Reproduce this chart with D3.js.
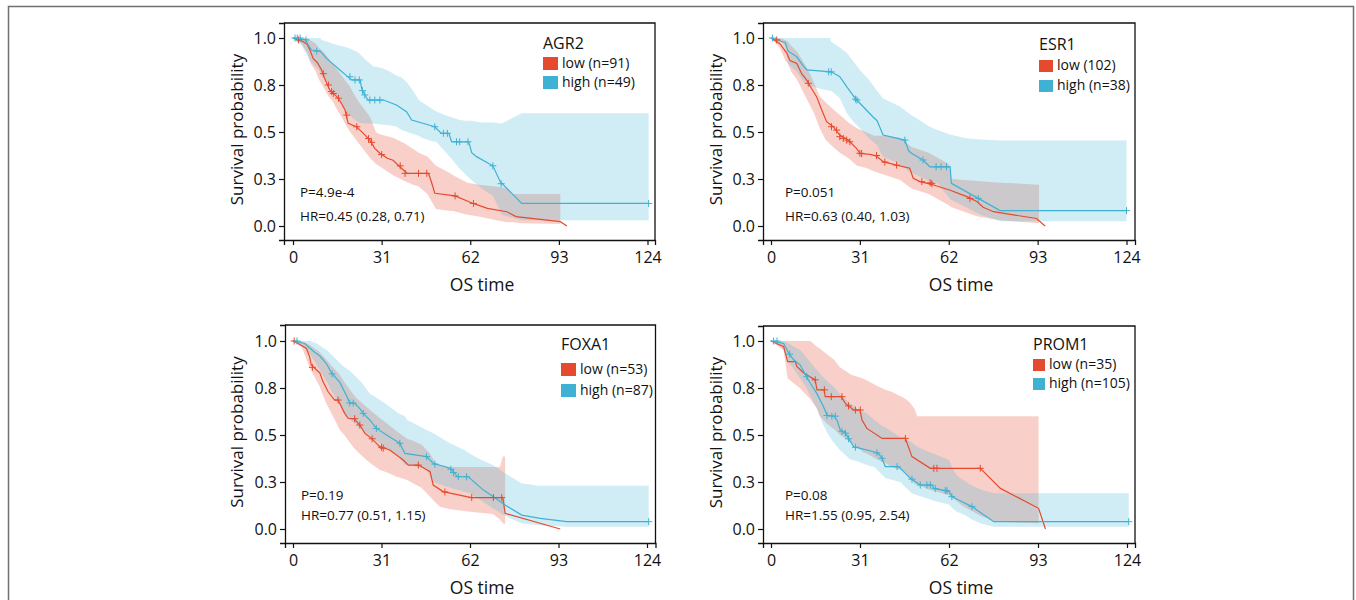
<!DOCTYPE html>
<html>
<head>
<meta charset="utf-8">
<script src="https://cdn.jsdelivr.net/npm/d3@7"></script>
<style>
  html, body { margin: 0; padding: 0; background: #fff; }
  svg { display: block; font-family: "Open Sans", "Noto Sans", sans-serif; }
</style>
</head>
<body>
<svg id="chart" width="1356" height="600"></svg>
<script>
// ---------------- DATA ----------------
const xTickValues = [0, 31, 62, 93, 124];
const yTickValues = [0, 0.25, 0.5, 0.75, 1];
const yTickLabels = ["0.0", "0.3", "0.5", "0.8", "1.0"];
const genes = ["AGR2", "ESR1", "FOXA1", "PROM1"];
const lowLabels = ["low (n=91)", "low (102)", "low (n=53)", "low (n=35)"];
const highLabels = ["high (n=49)", "high (n=38)", "high (n=87)", "high (n=105)"];
const pTexts = ["P=4.9e-4", "P=0.051", "P=0.19", "P=0.08"];
const hrTexts = ["HR=0.45 (0.28, 0.71)", "HR=0.63 (0.40, 1.03)", "HR=0.77 (0.51, 1.15)", "HR=1.55 (0.95, 2.54)"];

// ---- AGR2 ----
const agr2Low = [[0,1],[2,0.99],[3.6,0.98],[5,0.965],[5.9,0.936],[7.1,0.89],[8.5,0.87],[10,0.83],[11.2,0.78],[12.9,0.723],[14.5,0.70],[15.8,0.68],[17,0.65],[18.2,0.617],[19.3,0.546],[22.2,0.528],[24.6,0.493],[26.9,0.457],[28.6,0.413],[30.4,0.387],[33,0.36],[35,0.35],[38.6,0.298],[40,0.28],[47.4,0.28],[48.5,0.23],[49.6,0.174],[56.7,0.16],[63,0.12],[68,0.094],[74.8,0.076],[78,0.05],[93.5,0.023],[95.8,0]];
const agr2High = [[0,1],[4.5,0.99],[5.3,0.963],[6.5,0.936],[9.5,0.93],[11.8,0.89],[16.4,0.83],[18.7,0.80],[20.5,0.777],[23.5,0.777],[24,0.732],[25.1,0.697],[26.3,0.67],[31.6,0.67],[36.2,0.644],[39.7,0.608],[41.5,0.564],[49.6,0.528],[51.9,0.493],[54.5,0.493],[55.5,0.448],[61.5,0.448],[62.5,0.39],[64.2,0.369],[69.9,0.32],[72.5,0.236],[80,0.12],[124.4,0.12]];
const agr2LowCensor = [[1.9,0.99],[10.6,0.81],[12.4,0.75],[13.5,0.715],[14.1,0.705],[15.9,0.68],[18.8,0.59],[22.3,0.528],[26.4,0.465],[27.5,0.445],[31,0.38],[37.5,0.32],[39.2,0.28],[43.9,0.28],[46.8,0.28],[56.7,0.16],[63.1,0.12]];
const agr2HighCensor = [[0.7,1],[1.5,1],[2.5,1],[4.5,0.99],[8.3,0.93],[19.9,0.794],[21.7,0.777],[23.2,0.777],[24.3,0.72],[25.1,0.697],[26.9,0.67],[28.6,0.67],[30.4,0.67],[49.6,0.528],[52.6,0.493],[54,0.493],[57.2,0.448],[58.3,0.448],[61.2,0.448],[69.9,0.32],[72.8,0.225],[124.4,0.12]];
const agr2LowBand = [[0,1,1],[3,0.97,1],[5,0.92,1],[6,0.87,0.99],[8,0.82,0.97],[9,0.78,0.95],[11,0.73,0.92],[12,0.7,0.9],[14,0.66,0.86],[15,0.63,0.84],[17,0.58,0.8],[18,0.55,0.78],[20,0.5,0.74],[21,0.48,0.71],[23,0.44,0.66],[24,0.42,0.64],[27,0.36,0.58],[29,0.33,0.5],[30,0.32,0.49],[35,0.27,0.47],[39,0.24,0.44],[42,0.22,0.41],[44,0.21,0.39],[47,0.17,0.37],[50,0.09,0.32],[55,0.08,0.28],[56,0.08,0.27],[61,0.06,0.23],[65,0.05,0.22],[71,0.03,0.21],[75,0.02,0.2],[77,0.02,0.17],[80,0.015,0.17],[93.5,0.01,0.17]];
const agr2HighBand = [[0,1,1],[3,0.96,1],[6,0.88,1],[9.5,0.82,1],[10,0.80,0.99],[12,0.77,0.98],[13,0.74,0.975],[16,0.68,0.96],[19,0.6,0.95],[22,0.56,0.93],[23,0.55,0.92],[25,0.545,0.89],[28,0.545,0.85],[31,0.54,0.84],[34,0.535,0.82],[36,0.53,0.8],[38,0.51,0.79],[40,0.5,0.76],[42,0.49,0.72],[44,0.48,0.67],[45,0.47,0.66],[49,0.45,0.62],[50,0.45,0.61],[53,0.4,0.59],[57,0.33,0.57],[58,0.31,0.565],[60,0.28,0.56],[62,0.25,0.56],[66,0.2,0.55],[70,0.16,0.55],[72.5,0.08,0.545],[73,0.06,0.545],[80,0.03,0.6],[124.4,0.03,0.6]];

// ---- ESR1 ----
const esr1Low = [[0,1],[3.1,0.97],[5.5,0.92],[6.6,0.88],[9,0.865],[10.7,0.81],[12.4,0.777],[14.2,0.73],[15.9,0.688],[17.7,0.617],[19.4,0.555],[21.7,0.528],[24,0.484],[26.9,0.457],[29.8,0.413],[31,0.387],[35,0.38],[36.8,0.372],[39.1,0.342],[43.8,0.324],[48.4,0.307],[49.6,0.254],[52,0.236],[56.7,0.218],[62.5,0.19],[68.3,0.156],[71.8,0.13],[74,0.1],[77.6,0.076],[92.6,0.04],[95.6,0]];
const esr1High = [[0,1],[5,0.975],[6,0.93],[9,0.9],[11.3,0.85],[12.5,0.83],[21,0.82],[24,0.794],[26.4,0.741],[29.3,0.68],[31,0.653],[35.6,0.58],[37,0.56],[39.1,0.484],[46.7,0.457],[48,0.4],[49,0.387],[53,0.351],[55.4,0.315],[62.5,0.315],[62.9,0.227],[72.3,0.147],[79.9,0.082],[124,0.082]];
const esr1LowCensor = [[2,0.99],[13,0.759],[21.1,0.528],[22.9,0.51],[24,0.475],[25.2,0.466],[26.4,0.457],[27.5,0.448],[31,0.387],[31.6,0.385],[36.8,0.375],[39.7,0.34],[43.8,0.324],[52.6,0.236],[55.5,0.23],[56.1,0.225],[69.4,0.147]];
const esr1HighCensor = [[0.5,1],[20.1,0.82],[21,0.82],[29.5,0.675],[30,0.67],[46.7,0.457],[53,0.351],[57.6,0.315],[59.3,0.315],[61.2,0.315],[72.3,0.147],[124,0.082]];
const esr1LowBand = [[0,1,1],[3,0.95,1],[5,0.88,0.99],[6,0.86,0.98],[7,0.82,0.96],[9,0.78,0.93],[11,0.72,0.88],[13,0.66,0.83],[15,0.6,0.76],[17,0.52,0.69],[19,0.46,0.66],[21,0.43,0.63],[24,0.39,0.59],[27,0.36,0.55],[30,0.32,0.52],[33,0.31,0.5],[36,0.29,0.48],[40,0.27,0.48],[45,0.245,0.47],[49,0.2,0.42],[55,0.17,0.39],[62,0.11,0.33],[63,0.1,0.25],[72,0.05,0.24],[80,0.03,0.23],[93.5,0.015,0.22]];
const esr1HighBand = [[0,1,1],[4,0.98,1],[5,0.95,1],[6,0.86,1],[9,0.82,1],[11.3,0.77,1],[13,0.75,1],[17,0.73,1],[20.5,0.72,1],[21,0.72,0.98],[24,0.68,0.95],[26.5,0.6,0.92],[29,0.55,0.87],[31,0.52,0.83],[34,0.47,0.78],[37,0.43,0.72],[39,0.37,0.68],[45,0.33,0.636],[48,0.29,0.6],[51,0.27,0.57],[55,0.24,0.53],[58,0.227,0.51],[62.7,0.14,0.485],[68,0.1,0.467],[73,0.06,0.46],[80,0.025,0.455],[124,0.025,0.455]];

// ---- FOXA1 ----
const foxa1Low = [[0,1],[1.75,0.987],[4.7,0.96],[5.8,0.917],[6.4,0.872],[9.4,0.83],[10.5,0.784],[12.3,0.73],[14.6,0.686],[15.8,0.686],[18.1,0.615],[19.3,0.589],[21.5,0.585],[23.4,0.553],[25.2,0.509],[27.5,0.482],[30.4,0.438],[33.9,0.42],[38.6,0.367],[40.4,0.34],[44,0.34],[48,0.305],[49.1,0.234],[52.6,0.199],[60.8,0.172],[62.6,0.167],[73.5,0.167],[74.3,0.083],[93.6,0]];
const foxa1High = [[0,1],[4.1,0.987],[7.6,0.94],[9.4,0.92],[11.7,0.88],[13.5,0.83],[16.4,0.78],[18.7,0.71],[19.9,0.67],[21.5,0.67],[23.4,0.64],[24.6,0.615],[26.9,0.58],[29.2,0.535],[32.8,0.5],[37.4,0.456],[39.2,0.402],[46.8,0.385],[49.1,0.35],[55,0.323],[56.7,0.296],[57.5,0.278],[61.4,0.278],[66.7,0.207],[70.2,0.172],[74.3,0.128],[80.1,0.074],[86.6,0.057],[95.9,0.039],[124.6,0.039]];
const foxa1LowCensor = [[0.4,1],[6.8,0.86],[15.8,0.686],[21.6,0.587],[23.4,0.553],[27.7,0.48],[31,0.435],[31.6,0.43],[43.9,0.34],[53.2,0.197],[62.6,0.167],[70.2,0.167],[73.1,0.167]];
const foxa1HighCensor = [[1.4,1],[13.7,0.825],[19.9,0.67],[21.1,0.67],[24.6,0.615],[29.2,0.535],[37.4,0.456],[46.8,0.385],[49.7,0.345],[55.3,0.318],[56.2,0.3],[57.9,0.278],[60.8,0.278],[124.6,0.039]];
const foxa1LowBand = [[0,1,1],[3,0.97,1],[5.8,0.86,0.98],[7.5,0.81,0.96],[9.4,0.757,0.94],[10,0.73,0.93],[11.7,0.668,0.9],[14,0.6,0.86],[16.4,0.527,0.82],[18,0.5,0.78],[21,0.438,0.72],[22,0.42,0.7],[25.7,0.367,0.65],[28,0.34,0.62],[30.4,0.314,0.59],[33,0.3,0.56],[36.3,0.278,0.52],[40,0.26,0.48],[42,0.243,0.47],[45,0.22,0.45],[48,0.172,0.4],[50,0.14,0.35],[51.5,0.119,0.34],[55,0.105,0.33],[62,0.092,0.33],[70,0.08,0.33],[72.5,0.05,0.33],[73.5,0.03,0.385],[74.3,0.027,0.385]];
const foxa1HighBand = [[0,1,1],[4,0.97,1],[6,0.93,1],[8,0.88,0.99],[10,0.83,0.97],[12,0.78,0.95],[14,0.72,0.92],[16,0.67,0.89],[18,0.62,0.86],[20,0.58,0.84],[24,0.53,0.78],[26.9,0.5,0.72],[28,0.48,0.71],[32,0.44,0.67],[37,0.39,0.615],[39.2,0.34,0.6],[40,0.34,0.58],[46.8,0.32,0.527],[49,0.25,0.51],[55,0.22,0.456],[60,0.2,0.42],[62,0.19,0.4],[66,0.15,0.367],[70,0.11,0.34],[74.3,0.07,0.296],[80,0.03,0.243],[86,0.02,0.23],[96,0.012,0.23],[124.6,0.012,0.23]];

// ---- PROM1 ----
const prom1Low = [[0,1],[4.4,0.97],[5.8,0.89],[8.5,0.89],[9,0.865],[11.4,0.83],[15.4,0.793],[16,0.74],[18.5,0.74],[18.9,0.704],[24.5,0.704],[25.9,0.668],[28.8,0.633],[31,0.633],[31.7,0.58],[33.4,0.535],[38.7,0.482],[46.8,0.482],[49.1,0.385],[55.5,0.323],[72.9,0.323],[79.9,0.216],[93.2,0.11],[95.6,0]];
const prom1High = [[0,1],[4.4,0.987],[6.2,0.934],[7.9,0.9],[10.2,0.872],[12,0.82],[13.7,0.775],[16,0.72],[18.3,0.65],[19.5,0.606],[22,0.6],[23,0.58],[24.1,0.527],[26,0.51],[27,0.482],[28.8,0.438],[31.1,0.429],[35.8,0.411],[37.5,0.4],[38.7,0.376],[39.8,0.332],[44.5,0.332],[48.5,0.27],[52,0.234],[56,0.234],[56.7,0.216],[61.9,0.2],[63,0.172],[70,0.119],[77.6,0.039],[124.6,0.039]];
const prom1LowCensor = [[15.4,0.793],[18.6,0.74],[21,0.704],[24.7,0.704],[27,0.655],[29.4,0.633],[31.1,0.633],[46.8,0.482],[56.7,0.323],[57.8,0.323],[72.9,0.323]];
const prom1HighCensor = [[0.9,1],[2.1,1],[6.5,0.93],[12.5,0.81],[19.5,0.604],[21.2,0.6],[22.4,0.6],[24.7,0.52],[25.9,0.51],[27,0.48],[29.4,0.435],[36.9,0.405],[38.7,0.376],[43.9,0.332],[49.1,0.265],[52,0.234],[54.3,0.234],[55.5,0.234],[57.2,0.215],[60.7,0.205],[61.3,0.203],[63,0.172],[70,0.119],[124.6,0.039]];
const prom1LowBand = [[0,1,1],[4.4,0.95,1],[5.8,0.8,1],[10,0.75,1],[13.7,0.69,1],[16,0.64,0.97],[17,0.6,0.96],[19.5,0.56,0.93],[22,0.53,0.9],[24,0.5,0.86],[28,0.46,0.82],[32,0.41,0.8],[33.4,0.4,0.79],[37,0.37,0.76],[40,0.35,0.74],[42,0.33,0.73],[46,0.31,0.7],[47,0.3,0.69],[48.5,0.27,0.67],[50,0.24,0.64],[50.9,0.235,0.6],[55,0.21,0.6],[62,0.18,0.6],[67,0.12,0.6],[73,0.07,0.6],[78,0.04,0.6],[93.2,0.03,0.6]];
const prom1HighBand = [[0,1,1],[4,0.97,1],[6,0.89,0.99],[8,0.85,0.97],[10.2,0.8,0.952],[12,0.76,0.92],[14,0.7,0.88],[16,0.64,0.846],[18,0.56,0.81],[20,0.5,0.78],[21.8,0.46,0.757],[24,0.42,0.72],[27.6,0.37,0.668],[30,0.36,0.64],[33.4,0.34,0.615],[36,0.33,0.58],[39.2,0.28,0.544],[40,0.27,0.54],[45,0.25,0.49],[49,0.19,0.46],[50.9,0.18,0.438],[55,0.16,0.41],[56.7,0.15,0.4],[62,0.13,0.367],[64,0.1,0.3],[65,0.09,0.28],[68,0.07,0.25],[70,0.05,0.23],[73,0.03,0.21],[77.6,0.012,0.19],[124.6,0.012,0.19]];

// ---------------- LAYOUT (positions / styles) ----------------
const panels = [
  {low: agr2Low, high: agr2High, lowC: agr2LowCensor, highC: agr2HighCensor, lowB: agr2LowBand, highB: agr2HighBand},
  {low: esr1Low, high: esr1High, lowC: esr1LowCensor, highC: esr1HighCensor, lowB: esr1LowBand, highB: esr1HighBand},
  {low: foxa1Low, high: foxa1High, lowC: foxa1LowCensor, highC: foxa1HighCensor, lowB: foxa1LowBand, highB: foxa1HighBand},
  {low: prom1Low, high: prom1High, lowC: prom1LowCensor, highC: prom1HighCensor, lowB: prom1LowBand, highB: prom1HighBand}
];
const layout = [
  {L:284, R:655, T:23, B:240, x0:293, x124:647.5, y1:38, y0:226, ylx:243, xlx:482, xly:291, px:300, py:197, hy:221,
   lgx:543, lgty:49, sqw:15, sqh:13, sq1:57, sq2:76, t1:68, t2:87},
  {L:763, R:1135, T:23, B:240, x0:771, x124:1126.5, y1:38, y0:226, ylx:722, xlx:961, xly:291, px:785, py:197, hy:221,
   lgx:1039, lgty:50, sqw:14, sqh:12, sq1:60, sq2:80, t1:70, t2:90},
  {L:285, R:655.5, T:325, B:543, x0:293, x124:647, y1:341, y0:529, ylx:243, xlx:482, xly:594, px:301, py:500, hy:520,
   lgx:561, lgty:350, sqw:15, sqh:13, sq1:363, sq2:384, t1:374, t2:395},
  {L:763, R:1135, T:326, B:543, x0:771, x124:1127, y1:341, y0:529, ylx:722, xlx:961, xly:594, px:785, py:500, hy:520,
   lgx:1033, lgty:350, sqw:12, sqh:12, sq1:359, sq2:378, t1:369, t2:388}
];

const RED = "#e64a2e", BLUE = "#3fb2d4";
const RED_FILL = "rgba(232,73,45,0.26)", BLUE_FILL = "rgba(69,180,213,0.25)";
const TEXT = "#111";

const svg = d3.select("#chart");

// outer frame (open at bottom)
svg.append("path")
  .attr("d", "M8.5,600 V6.5 H1353.5 V600")
  .attr("fill", "none").attr("stroke", "#707070").attr("stroke-width", 1.5);

panels.forEach((p, i) => {
  const Lo = layout[i];
  const g = svg.append("g");
  const x = d3.scaleLinear().domain([0, 124]).range([Lo.x0, Lo.x124]);
  const y = d3.scaleLinear().domain([0, 1]).range([Lo.y0, Lo.y1]);
  const xa = d3.scaleLinear().domain([x.invert(Lo.L), x.invert(Lo.R)]).range([Lo.L, Lo.R]);
  const ya = d3.scaleLinear().domain([y.invert(Lo.B), y.invert(Lo.T)]).range([Lo.B, Lo.T]);

  const area = d3.area().curve(d3.curveLinear)
    .x(d => x(d[0])).y0(d => y(d[1])).y1(d => y(d[2]));
  g.append("path").datum(p.lowB).attr("d", area).attr("fill", RED_FILL);
  g.append("path").datum(p.highB).attr("d", area).attr("fill", BLUE_FILL);

  const line = d3.line().x(d => x(d[0])).y(d => y(d[1]));
  g.append("path").datum(p.low).attr("d", line).attr("fill", "none")
    .attr("stroke", RED).attr("stroke-width", 1.2);
  g.append("path").datum(p.high).attr("d", line).attr("fill", "none")
    .attr("stroke", BLUE).attr("stroke-width", 1.2);

  const cross = d => `M${x(d[0]) - 3.5},${y(d[1])}h7M${x(d[0])},${y(d[1]) - 3.5}v7`;
  g.append("g").selectAll("path").data(p.lowC).join("path")
    .attr("d", cross).attr("stroke", RED).attr("stroke-width", 1).attr("fill", "none");
  g.append("g").selectAll("path").data(p.highC).join("path")
    .attr("d", cross).attr("stroke", BLUE).attr("stroke-width", 1).attr("fill", "none");

  // frame top/right
  g.append("path")
    .attr("d", `M${Lo.L},${Lo.T}H${Lo.R}V${Lo.B}`)
    .attr("fill", "none").attr("stroke", "#111").attr("stroke-width", 1.3);

  // axes
  const yAxis = d3.axisLeft(ya).tickValues(yTickValues)
    .tickFormat((d, k) => yTickLabels[k]).tickSize(5).tickSizeOuter(5).tickPadding(3);
  const gy = g.append("g").attr("transform", `translate(${Lo.L},0)`).call(yAxis);
  const xAxis = d3.axisBottom(xa).tickValues(xTickValues)
    .tickFormat(d => d).tickSize(5).tickSizeOuter(5).tickPadding(7);
  const gx = g.append("g").attr("transform", `translate(0,${Lo.B})`).call(xAxis);
  [gx, gy].forEach(a => {
    a.selectAll("path.domain").attr("stroke", "#111").attr("stroke-width", 1.3);
    a.selectAll(".tick line").attr("stroke", "#111").attr("stroke-width", 1.2);
    a.selectAll(".tick text").attr("fill", TEXT).style("font-size", "16px")
      .style("font-family", "'Open Sans', 'Noto Sans', sans-serif");
  });

  // axis titles
  g.append("text").attr("transform", `translate(${Lo.ylx},${(Lo.T + Lo.B) / 2 - 2}) rotate(-90)`)
    .attr("text-anchor", "middle").attr("fill", TEXT).style("font-size", "17px")
    .text("Survival probability");
  g.append("text").attr("x", Lo.xlx).attr("y", Lo.xly).attr("text-anchor", "middle")
    .attr("fill", TEXT).style("font-size", "17.5px").text("OS time");

  // stats
  g.append("text").attr("x", Lo.px).attr("y", Lo.py).attr("fill", TEXT)
    .style("font-size", "13.5px").text(pTexts[i]);
  g.append("text").attr("x", Lo.px).attr("y", Lo.hy).attr("fill", TEXT)
    .style("font-size", "13.5px").text(hrTexts[i]);

  // legend
  g.append("text").attr("x", Lo.lgx).attr("y", Lo.lgty).attr("fill", TEXT)
    .style("font-size", "16px").text(genes[i]);
  g.append("rect").attr("x", Lo.lgx).attr("y", Lo.sq1).attr("width", Lo.sqw).attr("height", Lo.sqh).attr("fill", RED);
  g.append("rect").attr("x", Lo.lgx).attr("y", Lo.sq2).attr("width", Lo.sqw).attr("height", Lo.sqh).attr("fill", BLUE);
  g.append("text").attr("x", Lo.lgx + Lo.sqw + 4).attr("y", Lo.t1).attr("fill", TEXT)
    .style("font-size", "14px").text(lowLabels[i]);
  g.append("text").attr("x", Lo.lgx + Lo.sqw + 4).attr("y", Lo.t2).attr("fill", TEXT)
    .style("font-size", "14px").text(highLabels[i]);
});
</script>
</body>
</html>
